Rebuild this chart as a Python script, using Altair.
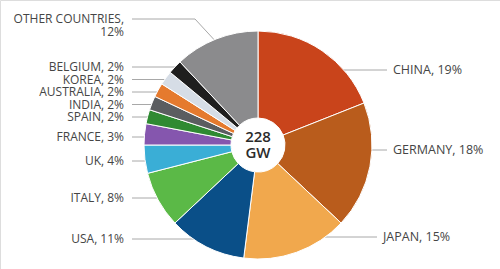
import altair as alt
import pandas as pd

# ---- data (clockwise from 12 o'clock) ----
countries = ["CHINA", "GERMANY", "JAPAN", "USA", "ITALY", "UK", "FRANCE",
             "SPAIN", "INDIA", "AUSTRALIA", "KOREA", "BELGIUM", "OTHER COUNTRIES"]
shares = [19, 18, 15, 11, 8, 4, 3, 2, 2, 2, 2, 2, 12]
colors = ["#C9441B", "#B95C1C", "#F1A84D", "#0A4F88", "#5BB947", "#3AAED6",
          "#8556AE", "#2F8A32", "#5B5D60", "#E57A2E", "#D6DDE6", "#1E1E1E", "#8B8B8D"]
total_label = ["228", "GW"]

pie_df = pd.DataFrame({"country": countries, "share": shares,
                       "idx": list(range(len(countries)))})

# ---- annotation layout (label placement & leader lines) ----
label_text = ["CHINA, 19%", "GERMANY, 18%", "JAPAN, 15%",
              "OTHER COUNTRIES,", "12%", "BELGIUM, 2%", "KOREA, 2%", "AUSTRALIA, 2%",
              "INDIA, 2%", "SPAIN, 2%", "FRANCE, 3%", "UK, 4%", "ITALY, 8%", "USA, 11%"]
label_x = [393, 393, 383, 124, 124, 124, 124, 124, 124, 124, 124, 124, 124, 124]
label_y = [70, 150, 237, 18.5, 32, 67, 79.5, 92, 104.5, 117, 136.5, 161, 198, 239]
label_align = ["left"] * 3 + ["right"] * 11

line_x1 = [310, 310, 290, 132, 195, 132, 132, 132, 132, 132, 132, 132, 132, 132]
line_x2 = [387, 387, 377, 195, 219, 178, 166, 160, 160, 163, 166, 163, 183, 213]
line_y1 = [70, 150, 237, 19, 19, 67, 79.5, 92, 104.5, 117, 137, 161, 198, 239]
line_y2 = [70, 150, 237, 19, 45, 67, 79.5, 92, 104.5, 117, 137, 161, 198, 239]

W, H = 500, 269
CX, CY = 258, 145

lab_df = pd.DataFrame({"t": label_text, "x": label_x, "y": label_y, "a": label_align})
line_df = pd.DataFrame({"x1": line_x1, "x2": line_x2, "y1": line_y1, "y2": line_y2})
center_df = pd.DataFrame({"t": total_label, "x": [CX, CX], "y": [CY - 8, CY + 8]})

xs = alt.Scale(domain=[0, W], range=[0, W])
ys = alt.Scale(domain=[0, H], range=[0, H])

pie = alt.Chart(pie_df).mark_arc(
    outerRadius=114, innerRadius=27, stroke="white", strokeWidth=1
).encode(
    theta=alt.Theta("share:Q", stack=True),
    color=alt.Color("country:N", scale=alt.Scale(domain=countries, range=colors), legend=None),
    order=alt.Order("idx:Q"),
    x=alt.value(CX),
    y=alt.value(CY),
)

lines = alt.Chart(line_df).mark_rule(color="#A8A8A8", strokeWidth=1).encode(
    x=alt.X("x1:Q", scale=xs, axis=None),
    x2="x2:Q",
    y=alt.Y("y1:Q", scale=ys, axis=None),
    y2="y2:Q",
)

FS = 12
left_labels = alt.Chart(lab_df[lab_df.a == "right"]).mark_text(
    align="right", baseline="middle", font="Open Sans", fontSize=FS, color="#454545"
).encode(x=alt.X("x:Q", scale=xs, axis=None), y=alt.Y("y:Q", scale=ys, axis=None), text="t:N")

right_labels = alt.Chart(lab_df[lab_df.a == "left"]).mark_text(
    align="left", baseline="middle", font="Open Sans", fontSize=12.5, color="#454545"
).encode(x=alt.X("x:Q", scale=xs, axis=None), y=alt.Y("y:Q", scale=ys, axis=None), text="t:N")

center = alt.Chart(center_df).mark_text(
    align="center", baseline="middle", font="Open Sans", fontSize=15,
    fontWeight=600, color="#2B2B2B"
).encode(x=alt.X("x:Q", scale=xs, axis=None), y=alt.Y("y:Q", scale=ys, axis=None), text="t:N")

chart = alt.layer(lines, pie, left_labels, right_labels, center).properties(
    width=W, height=H, padding=0, autosize=alt.AutoSizeParams(type="none")
).configure_view(stroke=None).configure(background="white")

chart.save("out.html", embed_options={"renderer": "svg", "actions": False})
